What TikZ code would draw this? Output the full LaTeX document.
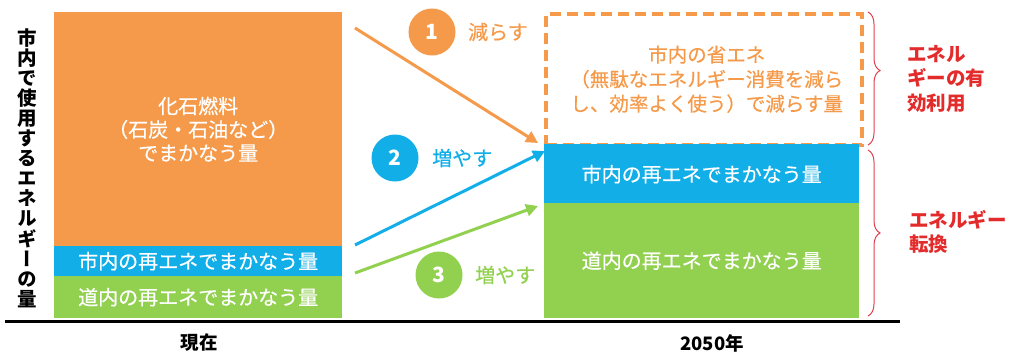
\documentclass[tikz,border=0pt]{standalone}
\usepackage{fontspec}
\setmainfont{Noto Sans CJK JP}
\newfontfamily\jpv[RawFeature=+vert]{Noto Sans CJK JP}
\newfontfamily\jpm[FakeBold=0.5]{Noto Sans CJK JP}
\usetikzlibrary{arrows.meta,decorations.pathreplacing,calc}
\definecolor{eorange}{HTML}{F59A4A}
\definecolor{eblue}{HTML}{12AEE8}
\definecolor{egreen}{HTML}{92D050}
\definecolor{ered}{HTML}{E42B2B}
\definecolor{ebrace}{HTML}{E0404E}
\tikzset{
  bar/.style={rectangle, inner sep=0pt, anchor=north west},
  bartext/.style={text=white, align=center, font=\jpm\fontsize{20}{23.5}\selectfont},
  numcirc/.style={circle, inner sep=0pt, minimum size=47pt, text=white,
    font=\fontsize{21}{21}\selectfont\bfseries},
  steplabel/.style={anchor=west, inner sep=0pt, font=\jpm\fontsize{20}{20}\selectfont},
  flow/.style={line width=3pt, -{Triangle[length=12pt,width=12pt]}},
  redlabel/.style={anchor=north west, inner sep=0pt, text=ered, align=left,
    font=\fontsize{19.5}{24.5}\selectfont\bfseries},
  axislabel/.style={inner sep=0pt, font=\fontsize{18.5}{18.5}\selectfont\bfseries},
  bracestyle/.style={draw=ebrace, line width=1pt, decorate}
}
\begin{document}
\begin{tikzpicture}[x=1pt,y=-1pt]
\useasboundingbox (0,0) rectangle (1011,354);
% left stack (present)
\node[bar, fill=eorange, minimum width=288pt, minimum height=234pt] (lfossil) at (54,12) {};
\node[bartext] at (lfossil.center) {化石燃料\\（石炭・石油など）\\でまかなう量};
\node[bar, fill=eblue, minimum width=288pt, minimum height=30pt] (lcity) at (54,246) {};
\node[bartext] at (lcity.center) {市内の再エネでまかなう量};
\node[bar, fill=egreen, minimum width=288pt, minimum height=42pt] (lhok) at (54,276) {};
\node[bartext] at (lhok.center) {道内の再エネでまかなう量};
% right stack (2050)
\node[rectangle, anchor=north west, inner sep=0pt, draw=eorange, line width=3.5pt,
  dash pattern=on 11pt off 6pt, minimum width=316pt, minimum height=131pt] (rsave) at (544,12) {};
\node[bartext, text=eorange, font=\jpm\fontsize{19.5}{24.5}\selectfont] at ($(rsave.center)+(3,0)$)
  {市内の省エネ\\（無駄なエネルギー消費を減ら\\し、効率よく使う）で減らす量};
\node[bar, fill=eblue, minimum width=315pt, minimum height=60pt] (rcity) at (544,144) {};
\node[bartext] at (rcity.center) {市内の再エネでまかなう量};
\node[bar, fill=egreen, minimum width=315pt, minimum height=115pt] (rhok) at (544,203) {};
\node[bartext] at (rhok.center) {道内の再エネでまかなう量};
% axis
\coordinate (axl) at (5,321);
\coordinate (axr) at (900,321);
\draw[line width=3pt] (axl) -- (axr);
\node[axislabel] (tnow) at (199,343) {現在};
\node[axislabel] (t2050) at (712,343) {2050年};
% vertical axis title
\node[inner sep=0pt, align=center, font=\jpv\fontsize{19.5}{20.1}\selectfont\bfseries] (ytitle) at (27,168)
  {市\\内\\で\\使\\用\\す\\る\\エ\\ネ\\ル\\ギ\\ー\\の\\量};
% arrows
\coordinate (a1s) at (355,28);
\coordinate (a1e) at (538,143);
\coordinate (a2s) at (355,245);
\coordinate (a2e) at (545,151);
\coordinate (a3s) at (355,273);
\coordinate (a3e) at (538,206);
\draw[flow, draw=eorange, fill=eorange] (a1s) -- (a1e);
\draw[flow, draw=eblue, fill=eblue] (a2s) -- (a2e);
\draw[flow, draw=egreen, fill=egreen] (a3s) -- (a3e);
% step markers
\node[numcirc, fill=eorange] (c1) at (432,32) {1};
\node[steplabel, text=eorange] (l1) at (468,32) {減らす};
\node[numcirc, fill=eblue] (c2) at (395,158) {2};
\node[steplabel, text=eblue] (l2) at (432,158) {増やす};
\node[numcirc, fill=egreen] (c3) at (439,275) {3};
\node[steplabel, text=egreen] (l3) at (475,275) {増やす};
% braces
\coordinate (b1t) at (868,12);
\coordinate (b1b) at (868,145);
\coordinate (b2t) at (868,150);
\coordinate (b2b) at (868,316);
\draw[bracestyle, decoration={brace, amplitude=12pt, aspect=0.44}] (b1t) -- (b1b);
\draw[bracestyle, decoration={brace, amplitude=12pt, aspect=0.5}] (b2t) -- (b2b);
\node[redlabel] (r1) at (907,45) {エネル\\ギーの有\\効利用};
\node[redlabel] (r2) at (909,210) {エネルギー\\転換};
\end{tikzpicture}
\end{document}
